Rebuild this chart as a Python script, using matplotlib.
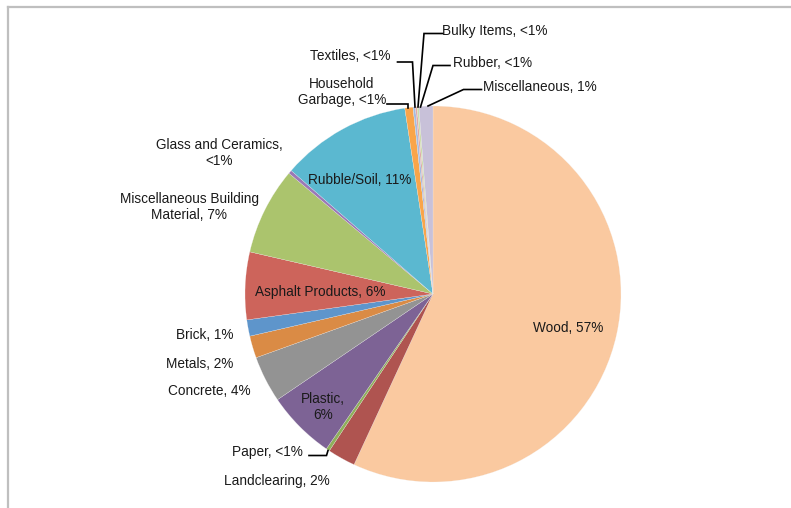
import matplotlib.pyplot as plt
from matplotlib.lines import Line2D

plt.rcParams['font.family'] = ['Liberation Sans', 'DejaVu Sans']

# waste composition, percent by weight
categories = ['Wood', 'Landclearing', 'Paper', 'Plastic', 'Concrete', 'Metals',
              'Brick', 'Asphalt Products', 'Miscellaneous Building Material',
              'Glass and Ceramics', 'Rubble/Soil', 'Household Garbage',
              'Textiles', 'Bulky Items', 'Rubber', 'Miscellaneous']
values = [56.9, 2.4, 0.3, 5.9, 4.0, 1.9, 1.4, 5.8, 7.5, 0.3, 11.2, 0.7,
          0.2, 0.15, 0.15, 1.2]
pct_text = ['57%', '2%', '<1%', '6%', '4%', '2%', '1%', '6%', '7%', '<1%',
            '11%', '<1%', '<1%', '<1%', '<1%', '1%']
colors = ['#FAC9A0', '#AF5450', '#8FB05A', '#7D6395', '#939393', '#DA8B45',
          '#5E95CB', '#CD645B', '#ABC46D', '#9B78B6', '#5BB8D0', '#F9A54A',
          '#A5BBE0', '#E0A9A7', '#CCDDA9', '#C8C1D9']

W, H = 791, 508
fig = plt.figure(figsize=(W / 100, H / 100), dpi=100)
ax = fig.add_axes([0, 0, 1, 1])

ax.pie(values, colors=colors, startangle=90, counterclock=False,
       center=(433, H - 294), radius=188, frame=True,
       wedgeprops=dict(edgecolor='#f4f4f4', linewidth=0.15))
ax.set_xlim(0, W)
ax.set_ylim(0, H)
ax.axis('off')

# label text, (x, y) in pixels from top-left
label_text = {
    'Wood': 'Wood, {}',
    'Landclearing': 'Landclearing, {}',
    'Paper': 'Paper, {}',
    'Plastic': 'Plastic,\n{}',
    'Concrete': 'Concrete, {}',
    'Metals': 'Metals, {}',
    'Brick': 'Brick, {}',
    'Asphalt Products': 'Asphalt Products, {}',
    'Miscellaneous Building Material': 'Miscellaneous Building\nMaterial, {}',
    'Glass and Ceramics': 'Glass and Ceramics,\n{}',
    'Rubble/Soil': 'Rubble/Soil, {}',
    'Household Garbage': 'Household\nGarbage, {}',
    'Textiles': 'Textiles, {}',
    'Bulky Items': 'Bulky Items, {}',
    'Rubber': 'Rubber, {}',
    'Miscellaneous': 'Miscellaneous, {}',
}
label_pos = {
    'Wood': (568, 328),
    'Landclearing': (277, 481),
    'Paper': (267, 452),
    'Plastic': (323, 407),
    'Concrete': (209, 391),
    'Metals': (200, 364),
    'Brick': (205, 335),
    'Asphalt Products': (320, 292),
    'Miscellaneous Building Material': (189, 207),
    'Glass and Ceramics': (219, 153),
    'Rubble/Soil': (360, 180),
    'Household Garbage': (342, 92),
    'Textiles': (350, 56),
    'Bulky Items': (495, 31),
    'Rubber': (493, 63),
    'Miscellaneous': (540, 87),
}
for name, pct in zip(categories, pct_text):
    x, y = label_pos[name]
    ax.text(x, H - y, label_text[name].format(pct), ha='center', va='center',
            fontsize=9.8, color='#1a1a1a', linespacing=1.1)

# leader lines for the thin slices
leaders = [
    [(387, 104), (407.5, 104), (407.5, 108)],
    [(397.5, 62), (412.5, 62), (415, 107)],
    [(443, 33.5), (424, 33.5), (418, 107)],
    [(450, 65.5), (433, 65.5), (420.5, 107)],
    [(481.5, 89.5), (463.5, 89.5), (428, 106)],
    [(309, 455.5), (326.5, 455.5), (328, 450.5)],
]
for pts in leaders:
    xs = [p[0] for p in pts]
    ys = [H - p[1] for p in pts]
    ax.plot(xs, ys, color='black', lw=1.2, solid_joinstyle='miter')

# chart frame (top and left edges)
fig.add_artist(Line2D([8 / W, 1], [1 - 7 / H, 1 - 7 / H], color='#bfbfbf', lw=1.6))
fig.add_artist(Line2D([8 / W, 8 / W], [0, 1 - 7 / H], color='#bfbfbf', lw=1.6))

fig.savefig('out.png', dpi=100)
